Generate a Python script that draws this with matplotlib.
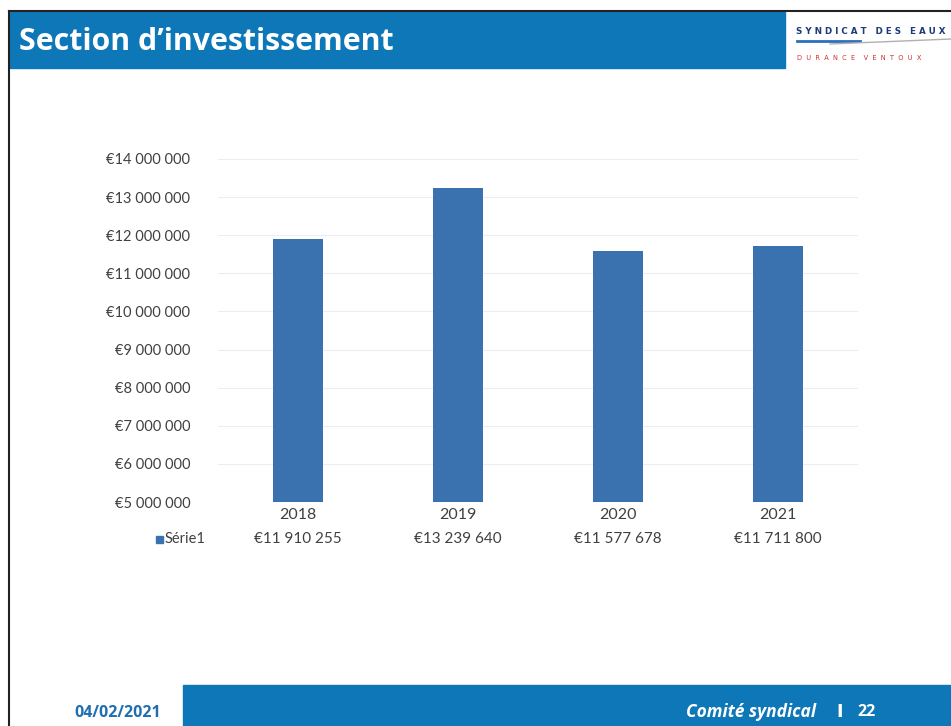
import matplotlib
matplotlib.use("Agg")
import matplotlib.pyplot as plt
from matplotlib.patches import Rectangle
from matplotlib.transforms import blended_transform_factory
from matplotlib.ticker import FuncFormatter

# ---- data ----
categories = ["2018", "2019", "2020", "2021"]
values = [11910255, 13239640, 11577678, 11711800]
series_name = "Série1"
y_ticks = [5000000, 6000000, 7000000, 8000000, 9000000, 10000000,
           11000000, 12000000, 13000000, 14000000]

title = "Section d’investissement"
date_text = "04/02/2021"
footer_text = "Comité syndical"
page_sep = "I"
page_num = "22"

W, H = 951, 726
fig = plt.figure(figsize=(W / 100, H / 100), dpi=100)
fig.patch.set_facecolor("white")

def fx(px):
    return px / W

def fy(py):
    return 1 - py / H

HEADER = "#0E77B7"
BAR = "#3A72B0"
TXT = "#404040"

# slide frame (scan border)
fig.add_artist(plt.Line2D([fx(9), fx(9)], [0, fy(11)], transform=fig.transFigure,
                          color="#222222", lw=1.5))
fig.add_artist(plt.Line2D([fx(9), fx(951)], [fy(11), fy(11)], transform=fig.transFigure,
                          color="#222222", lw=1.5))

# header band
fig.add_artist(Rectangle((fx(10), fy(68)), fx(785) - fx(10), fy(12) - fy(68),
                         transform=fig.transFigure, color=HEADER, zorder=1))
fig.text(fx(19), fy(42), title, color="white", fontsize=21.8, fontweight="bold",
         family="Open Sans", va="center", ha="left")

# logo
fig.text(fx(796), fy(32), "S Y N D I C A T   D E S   E A U X", color="#1F3A7A",
         fontsize=6.3, fontweight="bold", va="center", ha="left", family="DejaVu Sans")
fig.add_artist(plt.Line2D([fx(797), fx(860)], [fy(41), fy(41)], transform=fig.transFigure,
                          color="#2A6FC0", lw=2))
fig.add_artist(plt.Line2D([fx(830), fx(951)], [fy(44), fy(39)], transform=fig.transFigure,
                          color="#B0B0B0", lw=1))
fig.text(fx(797), fy(58), "D  U  R  A  N  C  E    V  E  N  T  O  U  X",
         color="#D03030", fontsize=4.8, va="center", ha="left")

# footer band
fig.add_artist(Rectangle((fx(183), 0), 1 - fx(183), fy(685),
                         transform=fig.transFigure, color=HEADER, zorder=1))
fig.text(fx(74), fy(713), date_text, color="#1F6FB0", fontsize=11.5, fontweight="bold",
         va="center", ha="left", family="Open Sans")
fig.text(fx(816), fy(712), footer_text, color="white", fontsize=12.5, fontweight="bold",
         style="italic", va="center", ha="right", family="Open Sans")
fig.text(fx(840), fy(712), page_sep, color="white", fontsize=12.5, fontweight="bold",
         va="center", ha="center", family="DejaVu Sans")
fig.text(fx(857), fy(712), page_num, color="white", fontsize=11.5, fontweight="bold",
         va="center", ha="left", family="Open Sans")

# chart
ax = fig.add_axes([fx(218), fy(502), fx(858) - fx(218), fy(159) - fy(502)])
x = list(range(len(categories)))
ax.bar(x, values, width=0.3125, color=BAR, zorder=3)
ax.set_xlim(-0.5, len(categories) - 0.5)
ax.set_ylim(y_ticks[0], y_ticks[-1])
ax.set_yticks(y_ticks)
ax.yaxis.set_major_formatter(FuncFormatter(lambda v, p: "€" + f"{int(v):,}".replace(",", " ")))
ax.tick_params(axis="y", length=0, pad=20, labelsize=10.5, labelcolor=TXT)
ax.set_xticks([])
ax.grid(axis="y", color="#EDEDED", lw=0.8, zorder=0)
for s in ax.spines.values():
    s.set_visible(False)
for lab in ax.get_yticklabels():
    lab.set_family("Lato")

# data table under the chart
tr = blended_transform_factory(ax.transData, fig.transFigure)
for xi, cat, val in zip(x, categories, values):
    ax.text(xi, fy(515), cat, transform=tr, ha="center", va="center",
            fontsize=11.5, color=TXT, family="Lato")
    ax.text(xi, fy(539), "€" + f"{val:,}".replace(",", " "), transform=tr,
            ha="center", va="center", fontsize=11, color=TXT, family="Lato")
fig.add_artist(Rectangle((fx(156), fy(543)), fx(7), fy(536) - fy(543),
                         transform=fig.transFigure, color=BAR))
fig.text(fx(165), fy(539), series_name, color=TXT, fontsize=10.5, va="center",
         ha="left", family="Lato")

fig.savefig("out.png", dpi=100)
